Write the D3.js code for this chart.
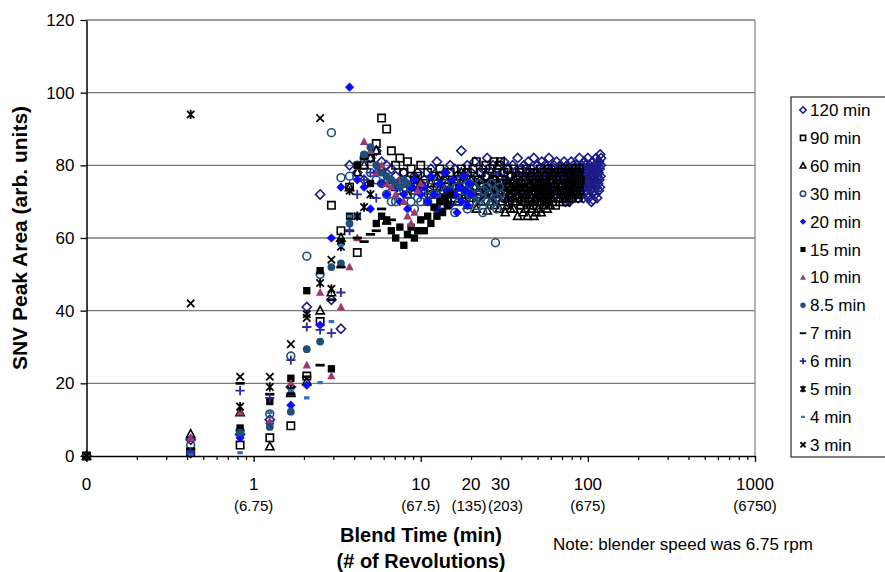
<!DOCTYPE html>
<html>
<head>
<meta charset="utf-8">
<script src="https://cdn.jsdelivr.net/npm/d3@7"></script>
<style>
  body { margin: 0; background: #fff; }
  svg { font-family: "Liberation Sans", Arial, sans-serif; }
</style>
</head>
<body>
<script>
// sample times (min): 25 s steps up to 10 min, then every half minute
const earlyTimes = [0, 0.42, 0.83, 1.25, 1.67, 2.08, 2.5, 2.92, 3.33, 3.75, 4.17, 4.58, 5, 5.42, 5.83, 6.25, 6.67, 7.08, 7.5, 7.92, 8.33, 8.75, 9.17, 9.58, 10];
const laterTimes = d3.range(10.5, 120.01, 0.5);

const seriesNames = ["120 min", "90 min", "60 min", "30 min", "20 min", "15 min", "10 min", "8.5 min", "7 min", "6 min", "5 min", "4 min", "3 min"];
const seriesShapes = ["diamond", "square", "triangle", "circle", "diamond", "square", "triangle", "circle", "dash", "plus", "asterisk", "smalldash", "times"];
const seriesFilled = [false, false, false, false, true, true, true, true, true, false, false, true, false];
const seriesColors = ["#1c1c86", "#000000", "#000000", "#1f4e79", "#0a0aff", "#000000", "#9c3a6e", "#1f4e79", "#000000", "#2a2a9c", "#000000", "#2f6fbf", "#000000"];

const v120 = [0, 4.5, 6, 10, 19, 41, 72, 43, 35, 80, 78, 76, 82, 84, 81, 80, 79, 77, 75, 78, 76, 74, 77, 78, 75,
  76, 72, 79, 74, 81, 77, 73, 78, 75, 80,
  74, 79, 76, 72, 84, 77, 75, 80, 73, 78,
  76, 81, 74, 71, 78, 75, 79, 73, 77, 82,
  75, 72, 78, 80, 74, 76, 71, 79, 77, 73,
  78, 75, 81, 73, 76, 70, 79, 74, 77, 72,
  80, 76, 73, 78, 75, 82, 71, 77, 74, 79,
  73, 77, 80, 75, 72, 78, 76, 81, 74, 70,
  77, 79, 73, 76, 82, 74, 78, 71, 75, 80,
  76, 73, 79, 77, 72, 81, 75, 78, 74, 76,
  80, 72, 77, 75, 79, 73, 82, 76, 71, 78,
  74, 79, 76, 73, 80, 77, 72, 78, 75, 81,
  73, 77, 79, 74, 76, 71, 80, 75, 78, 72,
  79, 76, 73, 81, 75, 77, 70, 78, 74, 80,
  76, 72, 79, 75, 70, 78, 73, 77, 81, 74,
  78, 75, 71, 80, 76, 73, 79, 74, 77, 72,
  80, 76, 74, 78, 71, 77, 75, 82, 73, 79,
  75, 78, 72, 80, 76, 74, 79, 71, 77, 81,
  74, 77, 80, 73, 76, 78, 72, 79, 75, 82,
  76, 71, 78, 74, 80, 75, 73, 79, 77, 70,
  78, 74, 81, 76, 70.5, 79, 73, 77, 75, 80,
  72, 78, 76, 82, 74, 79, 71, 77, 80, 75,
  78, 73, 81, 76, 79, 74, 83, 77, 80, 82];
const v90 = [0, 1, 3, 5, 8.3, 22, 37, 69, 62, 74, 56, 80, 82, 86, 93, 90, 84, 80, 82, 78, 81, 79, 76, 77, 80,
  75, 78, 72, 77, 74, 79, 71, 76, 73, 78,
  74, 71, 77, 73, 79, 75, 72, 78, 70, 76,
  79, 74, 81, 76, 72, 78, 75, 73, 80, 77,
  74, 79, 72, 76, 81, 75, 78, 73, 80, 81,
  76, 73, 78, 71, 75, 79, 70, 74, 77, 72,
  75, 79, 73, 77, 71, 76, 74, 78, 69, 75,
  72, 77, 74, 70, 76, 79, 73, 75, 71, 78,
  74, 72, 77, 69, 75, 78, 73, 76, 70, 74,
  77, 72, 75, 79, 73, 70, 76, 74, 78, 71,
  75, 73, 77, 70, 74, 79, 72, 76, 71, 78,
  73, 76, 70, 75, 78, 72, 74, 69, 77, 73,
  76, 71, 75, 78, 73, 70, 77, 74, 72, 79,
  74, 77, 71, 76, 73, 79, 72, 75, 70, 78,
  73, 76, 74, 71, 78, 75, 72, 77, 74, 79,
  71, 76, 73, 78, 74, 72, 77, 75, 79, 73,
  76, 72, 78, 74, 71, 77, 75, 79, 73, 76];
const v60 = [0, 6, 12, 2.6, 17.3, 20.5, 40, 45, 60, 74, 78, 80, 82, 84, 79, 76, 75, 74, 73, 75, 72, 74, 73, 76, 75,
  73, 70, 75, 72, 77, 74, 69, 76, 71, 74,
  72, 76, 70, 74, 78, 71, 75, 69, 73, 76,
  71, 74, 68, 73, 76, 70, 75, 72, 74, 67.5,
  73, 70, 76, 72, 69, 74, 71, 75, 68, 73,
  70, 74, 71, 67, 73, 69, 75, 72, 68, 74,
  71, 68, 73, 70, 75, 66, 72, 74, 69, 71,
  73, 67, 70, 74, 68, 72, 66, 71, 75, 69,
  72, 68, 74, 70, 66, 73, 71, 67, 74, 70,
  68, 72, 70, 74, 67, 71, 73, 69, 72, 70,
  74, 69, 72, 68, 71, 73, 70, 72, 69, 71];
const v30 = [0, 3, 7, 11.6, 27.5, 55, 50, 89, 76.6, 77, 80, 82, 78, 76, 75, 72, 70, 70, 71, 73, 72, 70, 68, 71, 70,
  73, 70, 76, 72, 68, 74, 71, 75, 69, 73,
  72, 67, 74, 70, 76, 71, 73, 68, 75, 72,
  70, 74, 69, 72, 75, 71, 67, 73, 70, 74,
  72, 69, 75, 70, 73, 58.7, 68, 71, 74, 72];
const v20 = [0, 0.5, 5, 9, 14, 19.5, 36, 60, 74, 101.5, 76, 74, 68, 78, 75, 72, 76, 74, 70, 72, 68, 74, 76, 73, 72,
  74, 70, 77, 72, 68, 75, 71, 78, 73, 69,
  76, 72, 67, 74, 70, 77, 73, 69, 75, 72];
const v15 = [0, 1, 7.7, 15, 21.4, 45.5, 51, 24, 59, 66, 80, 82.5, 75, 64, 66, 65, 62, 60, 63, 58, 61, 63, 60, 62, 65,
  62, 66, 64, 68.5, 66, 70, 67, 71, 69, 72];
const v10 = [0, 5, 12, 9.5, 20, 25, 45, 22, 41, 52, 60, 86.5, 84, 78, 80, 75, 74, 72, 76, 70, 66, 64, 67, 73, 75];
const v8_5 = [0, 1, 6.4, 8, 12.2, 29.4, 31.5, 52, 53, 64, 66, 83, 85, 80, 78, 77, 76, 75, 74, 76, 75];
const v7 = [0, 2, 20, 17, 17, 21.8, 25, 43, 52, 62, 60, 59, 61, 62, 68, 64, 65];
const v6 = [0, 1, 18, 16, 26.4, 35.5, 34.7, 33.8, 45, 62, 72, 76, 78, 71, 75];
const v5 = [0, 94, 13.6, 19, 18.2, 39, 47.6, 46, 57.6, 73, 66, 68.5, 72];
const v4 = [0, 0.3, 0.9, 12, 18, 16, 20.2, 37, 58, 66];
const v3 = [0, 42, 21.8, 21.8, 30.8, 38, 93, 54];
const seriesValues = [v120, v90, v60, v30, v20, v15, v10, v8_5, v7, v6, v5, v4, v3];

const xTickValues = [0.1, 1, 10, 20, 30, 100, 1000];
const xTickLabels = ["0", "1", "10", "20", "30", "100", "1000"];
const xTickRevs = ["", "(6.75)", "(67.5)", "(135)", "(203)", "(675)", "(6750)"];
const yTickValues = [0, 20, 40, 60, 80, 100, 120];

const W = 885, H = 572;
const plot = { left: 86.5, right: 755, top: 20, bottom: 456 };

const allTimes = earlyTimes.concat(laterTimes);
const series = seriesNames.map((name, i) => ({
  name: name,
  shape: seriesShapes[i],
  filled: seriesFilled[i],
  color: seriesColors[i],
  points: seriesValues[i].map((v, k) => ({ t: allTimes[k], v: v }))
}));

const svg = d3.select("body").append("svg").attr("width", W).attr("height", H);

const x = d3.scaleLog().domain([0.1, 1000]).range([plot.left, plot.right]);
const y = d3.scaleLinear().domain([0, 120]).range([plot.bottom, plot.top]);

// gridlines
svg.append("g")
  .selectAll("line")
  .data(yTickValues.filter(d => d > 0))
  .enter()
  .append("line")
  .attr("x1", plot.left).attr("x2", plot.right)
  .attr("y1", d => y(d)).attr("y2", d => y(d))
  .attr("stroke", "#7a7a7a").attr("stroke-width", 1.4);

// right border of plot area
svg.append("line")
  .attr("x1", plot.right).attr("x2", plot.right)
  .attr("y1", plot.top).attr("y2", plot.bottom)
  .attr("stroke", "#8a8a8a").attr("stroke-width", 1.3);

function shapePath(kind, r) {
  const p = d3.path();
  if (kind === "diamond") {
    p.moveTo(0, -r); p.lineTo(r, 0); p.lineTo(0, r); p.lineTo(-r, 0); p.closePath();
  } else if (kind === "square") {
    p.rect(-r * 0.8, -r * 0.8, r * 1.6, r * 1.6);
  } else if (kind === "triangle") {
    p.moveTo(0, -r); p.lineTo(r * 0.9, r * 0.7); p.lineTo(-r * 0.9, r * 0.7); p.closePath();
  } else if (kind === "circle") {
    p.moveTo(r * 0.85, 0); p.arc(0, 0, r * 0.85, 0, 2 * Math.PI);
  } else if (kind === "plus") {
    p.moveTo(-r, 0); p.lineTo(r, 0); p.moveTo(0, -r); p.lineTo(0, r);
  } else if (kind === "times") {
    p.moveTo(-r * 0.8, -r * 0.8); p.lineTo(r * 0.8, r * 0.8); p.moveTo(-r * 0.8, r * 0.8); p.lineTo(r * 0.8, -r * 0.8);
  } else if (kind === "asterisk") {
    p.moveTo(-r * 0.8, -r * 0.8); p.lineTo(r * 0.8, r * 0.8); p.moveTo(-r * 0.8, r * 0.8); p.lineTo(r * 0.8, -r * 0.8);
    p.moveTo(0, -r); p.lineTo(0, r);
  } else if (kind === "dash") {
    p.rect(-r, -r * 0.3, r * 2, r * 0.6);
  } else if (kind === "smalldash") {
    p.rect(-r * 0.6, -r * 0.35, r * 1.2, r * 0.7);
  }
  return p.toString();
}

function styleMarker(sel, s) {
  const lineOnly = s.shape === "plus" || s.shape === "times" || s.shape === "asterisk";
  sel.attr("fill", s.filled ? s.color : "none")
    .attr("stroke", s.filled && !lineOnly ? "none" : s.color)
    .attr("stroke-width", lineOnly ? 1.8 : 1.6);
}

// markers
series.forEach(s => {
  const g = svg.append("g").attr("class", "series");
  g.selectAll("path")
    .data(s.points)
    .enter()
    .append("path")
    .attr("transform", d => `translate(${x(Math.max(d.t, 0.1))},${y(d.v)})`)
    .attr("d", shapePath(s.shape, 4.6))
    .call(styleMarker, s);
});

// y axis
const yAxis = d3.axisLeft(y).tickValues(yTickValues).tickSize(6).tickSizeOuter(0);
const gy = svg.append("g").attr("transform", `translate(${plot.left},0)`).call(yAxis);
gy.select(".domain").attr("stroke", "#000").attr("stroke-width", 1.5);
gy.selectAll(".tick line").attr("stroke", "#000").attr("stroke-width", 1.3);
gy.selectAll(".tick text").attr("font-size", 17).attr("x", -12).attr("fill", "#000")
  .attr("font-family", "Liberation Sans, Arial, sans-serif");

// x axis with log minor ticks
const minorTicks = [];
[0.1, 1, 10, 100].forEach(dec => { for (let m = 2; m <= 9; m++) minorTicks.push(dec * m); });
const xAxis = d3.axisBottom(x).tickValues(minorTicks).tickSize(4).tickFormat("").tickSizeOuter(0);
const gx = svg.append("g").attr("transform", `translate(0,${plot.bottom})`).call(xAxis);
gx.select(".domain").attr("stroke", "#000").attr("stroke-width", 1.5);
gx.selectAll(".tick line").attr("stroke", "#000").attr("stroke-width", 1.2);
const xMajor = d3.axisBottom(x).tickValues([0.1, 1, 10, 100, 1000]).tickSize(6).tickFormat("").tickSizeOuter(0);
const gx2 = svg.append("g").attr("transform", `translate(0,${plot.bottom})`).call(xMajor);
gx2.select(".domain").remove();
gx2.selectAll(".tick line").attr("stroke", "#000").attr("stroke-width", 1.3);

const lab = svg.append("g").attr("fill", "#000").attr("text-anchor", "middle");
lab.selectAll("text.n")
  .data(xTickValues)
  .enter()
  .append("text")
  .attr("class", "n")
  .attr("font-size", 17)
  .attr("x", d => x(d))
  .attr("y", 490)
  .text((d, i) => xTickLabels[i]);
// the (135) and (203) labels sit edge to edge, nudge them apart a little
lab.selectAll("text.r")
  .data(xTickValues)
  .enter()
  .append("text")
  .attr("class", "r")
  .attr("font-size", 15)
  .attr("x", d => x(d) + (d === 20 ? -2 : d === 30 ? 5 : 0))
  .attr("y", 511)
  .text((d, i) => xTickRevs[i]);

// axis titles
svg.append("text")
  .attr("x", 421).attr("y", 542)
  .attr("text-anchor", "middle")
  .attr("font-size", 20).attr("font-weight", "bold")
  .text("Blend Time (min)");
svg.append("text")
  .attr("x", 421).attr("y", 568)
  .attr("text-anchor", "middle")
  .attr("font-size", 20).attr("font-weight", "bold")
  .text("(# of Revolutions)");
svg.append("text")
  .attr("transform", "translate(27,238) rotate(-90)")
  .attr("text-anchor", "middle")
  .attr("font-size", 21).attr("font-weight", "bold")
  .text("SNV Peak Area (arb. units)");
svg.append("text")
  .attr("x", 553).attr("y", 550)
  .attr("font-size", 17)
  .text("Note: blender speed was 6.75 rpm");

// legend
const legend = svg.append("g").attr("transform", "translate(791,97)");
legend.append("rect")
  .attr("x", 0).attr("y", 0).attr("width", 110).attr("height", 360)
  .attr("fill", "#fff").attr("stroke", "#000").attr("stroke-width", 1);
const item = legend.selectAll("g.item")
  .data(series)
  .enter()
  .append("g")
  .attr("class", "item")
  .attr("transform", (d, i) => `translate(0,${13 + i * 27.9})`);
item.append("path")
  .attr("transform", "translate(12,0)")
  .attr("d", d => shapePath(d.shape, 3.2))
  .each(function (d) { d3.select(this).call(styleMarker, d); });
item.append("text")
  .attr("x", 19).attr("y", 6)
  .attr("font-size", 17)
  .text(d => d.name);
</script>
</body>
</html>
